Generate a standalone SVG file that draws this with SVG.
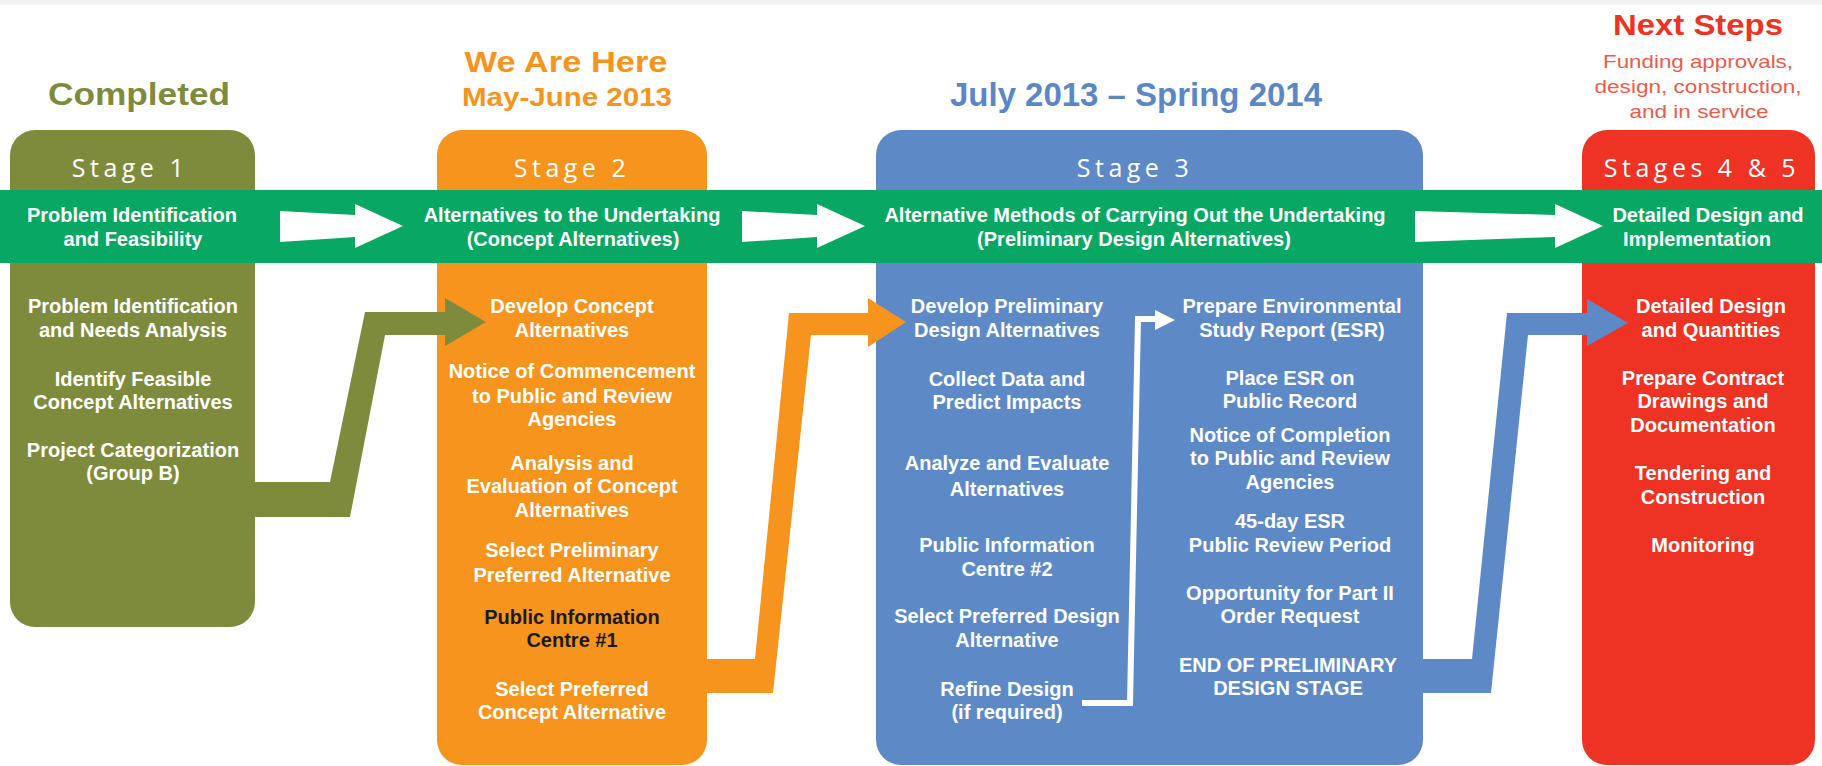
<svg xmlns="http://www.w3.org/2000/svg" width="1822" height="766" viewBox="0 0 1822 766">
  <style>
    .hdr { font-family: "Liberation Sans", Arial, sans-serif; font-weight: bold; text-anchor: middle; }
    .sub { font-family: "Liberation Sans", Arial, sans-serif; font-weight: normal; text-anchor: middle; font-size: 19px; fill: #f15a4a; }
    .stg { font-family: "Open Sans", "Liberation Sans", sans-serif; font-size: 25px; fill: #ffffff; letter-spacing: 4.5px; text-anchor: middle; }
    .txt { font-family: "Liberation Sans", Arial, sans-serif; font-weight: bold; font-size: 20px; fill: #ffffff; text-anchor: middle; }
    .dark { fill: #1a1a1a; }
    .olive { fill: #7f8b3c; }
    .orange { fill: #f7941e; }
    .blue { fill: #5d8ac7; }
    .red { fill: #ee3224; }
    .band { fill: #08a864; }
    .white { fill: #ffffff; }
  </style>

  <rect x="0" y="0" width="1822" height="766" fill="#ffffff"/>
  <rect x="0" y="0" width="1822" height="5" fill="#f3f3f3"/>

  <!-- Period headings -->
  <g id="headings">
    <text class="hdr" x="139" y="105" font-size="32" fill="#7f8b3c" textLength="182" lengthAdjust="spacingAndGlyphs">Completed</text>
    <text class="hdr" x="566" y="72" font-size="30" fill="#f7941e" textLength="203" lengthAdjust="spacingAndGlyphs">We Are Here</text>
    <text class="hdr" x="567" y="106" font-size="26" fill="#f7941e" textLength="210" lengthAdjust="spacingAndGlyphs">May-June 2013</text>
    <text class="hdr" x="1136" y="106" font-size="33" fill="#5b87c6" textLength="372" lengthAdjust="spacingAndGlyphs">July 2013 – Spring 2014</text>
    <text class="hdr" x="1698" y="35" font-size="30" fill="#ee3224" textLength="170" lengthAdjust="spacingAndGlyphs">Next Steps</text>
    <text class="sub" x="1698" y="68" textLength="190" lengthAdjust="spacingAndGlyphs">Funding approvals,</text>
    <text class="sub" x="1698" y="93" textLength="207" lengthAdjust="spacingAndGlyphs">design, construction,</text>
    <text class="sub" x="1699" y="118" textLength="139" lengthAdjust="spacingAndGlyphs">and in service</text>
  </g>

  <!-- Stage columns -->
  <g id="stage1">
    <rect class="olive" x="10" y="130" width="245" height="497" rx="25"/>
    <text class="stg" x="130" y="177">Stage 1</text>
  </g>
  <g id="stage2">
    <rect class="orange" x="437" y="130" width="270" height="635" rx="25"/>
    <text class="stg" x="572" y="177">Stage 2</text>
  </g>
  <g id="stage3">
    <rect class="blue" x="876" y="130" width="547" height="635" rx="25"/>
    <text class="stg" x="1135" y="177">Stage 3</text>
  </g>
  <g id="stage4-5">
    <rect class="red" x="1582" y="130" width="233" height="635" rx="25"/>
    <text class="stg" x="1702" y="177">Stages 4 &amp; 5</text>
  </g>

  <!-- Phase band across all stages -->
  <g id="phase-band">
    <rect class="band" x="0" y="190" width="1822" height="73"/>
    <polygon class="white" points="280,211 355,215 355,204 403,226 355,248 355,237 280,242"/>
    <polygon class="white" points="742,211 817,215 817,204 865,226 817,248 817,237 742,242"/>
    <polygon class="white" points="1415,211 1555,215 1555,204 1603,226 1555,248 1555,237 1415,242"/>
    <text class="txt" x="132" y="222">Problem Identification</text>
    <text class="txt" x="133" y="246">and Feasibility</text>
    <text class="txt" x="572" y="222">Alternatives to the Undertaking</text>
    <text class="txt" x="573" y="246">(Concept Alternatives)</text>
    <text class="txt" x="1135" y="222">Alternative Methods of Carrying Out the Undertaking</text>
    <text class="txt" x="1134" y="246">(Preliminary Design  Alternatives)</text>
    <text class="txt" x="1708" y="222">Detailed Design and</text>
    <text class="txt" x="1697" y="246">Implementation</text>
  </g>

  <!-- Stage activities -->
  <g id="stage1-tasks">
    <text class="txt" x="133" y="313">Problem Identification</text>
    <text class="txt" x="133" y="337">and Needs Analysis</text>
    <text class="txt" x="133" y="386">Identify Feasible</text>
    <text class="txt" x="133" y="409">Concept Alternatives</text>
    <text class="txt" x="133" y="457">Project Categorization</text>
    <text class="txt" x="133" y="480">(Group B)</text>
  </g>
  <g id="stage2-tasks">
    <text class="txt" x="572" y="313">Develop Concept</text>
    <text class="txt" x="572" y="337">Alternatives</text>
    <text class="txt" x="572" y="378">Notice of Commencement</text>
    <text class="txt" x="572" y="403">to Public and Review</text>
    <text class="txt" x="572" y="426">Agencies</text>
    <text class="txt" x="572" y="470">Analysis and</text>
    <text class="txt" x="572" y="493">Evaluation of Concept</text>
    <text class="txt" x="572" y="517">Alternatives</text>
    <text class="txt" x="572" y="557">Select Preliminary</text>
    <text class="txt" x="572" y="582">Preferred Alternative</text>
    <text class="txt dark" x="572" y="624">Public Information</text>
    <text class="txt dark" x="572" y="647">Centre #1</text>
    <text class="txt" x="572" y="696">Select Preferred</text>
    <text class="txt" x="572" y="719">Concept Alternative</text>
  </g>
  <g id="stage3-tasks">
    <text class="txt" x="1007" y="313">Develop Preliminary</text>
    <text class="txt" x="1007" y="337">Design Alternatives</text>
    <text class="txt" x="1007" y="386">Collect Data and</text>
    <text class="txt" x="1007" y="409">Predict Impacts</text>
    <text class="txt" x="1007" y="470">Analyze and Evaluate</text>
    <text class="txt" x="1007" y="496">Alternatives</text>
    <text class="txt" x="1007" y="552">Public Information</text>
    <text class="txt" x="1007" y="576">Centre #2</text>
    <text class="txt" x="1007" y="623">Select Preferred Design</text>
    <text class="txt" x="1007" y="647">Alternative</text>
    <text class="txt" x="1007" y="696">Refine Design</text>
    <text class="txt" x="1007" y="719">(if required)</text>

    <text class="txt" x="1292" y="313">Prepare Environmental</text>
    <text class="txt" x="1292" y="337">Study Report (ESR)</text>
    <text class="txt" x="1290" y="385">Place ESR on</text>
    <text class="txt" x="1290" y="408">Public Record</text>
    <text class="txt" x="1290" y="442">Notice of Completion</text>
    <text class="txt" x="1290" y="465">to Public and Review</text>
    <text class="txt" x="1290" y="489">Agencies</text>
    <text class="txt" x="1290" y="528">45-day ESR</text>
    <text class="txt" x="1290" y="552">Public Review Period</text>
    <text class="txt" x="1290" y="600">Opportunity for Part II</text>
    <text class="txt" x="1290" y="623">Order Request</text>
    <text class="txt" x="1288" y="672">END OF PRELIMINARY</text>
    <text class="txt" x="1288" y="695">DESIGN STAGE</text>
  </g>
  <g id="stage4-5-tasks">
    <text class="txt" x="1711" y="313">Detailed Design</text>
    <text class="txt" x="1711" y="337">and Quantities</text>
    <text class="txt" x="1703" y="385">Prepare Contract</text>
    <text class="txt" x="1703" y="408">Drawings and</text>
    <text class="txt" x="1703" y="432">Documentation</text>
    <text class="txt" x="1703" y="480">Tendering and</text>
    <text class="txt" x="1703" y="504">Construction</text>
    <text class="txt" x="1703" y="552">Monitoring</text>
  </g>

  <!-- Hand-off arrows between stages -->
  <g id="connectors">
    <polygon class="olive" points="240,482 330,482 365,312 445,312 445,298 486,322 445,346 445,335 385,335 350,517 240,517"/>
    <polygon class="orange" points="690,659 755,659 789,313 868,313 868,298 906,322 868,347 868,335 811,335 773,693 690,693"/>
    <polygon class="blue" points="1410,659 1472,659 1507,313 1587,313 1587,299 1628,323 1587,346 1587,335 1528,335 1491,693 1410,693"/>
    <polyline points="1082,703 1130,703 1138,319 1157,319" fill="none" stroke="#ffffff" stroke-width="6" stroke-linejoin="miter"/>
    <polygon class="white" points="1155,310 1175,320 1155,330"/>
  </g>
</svg>
